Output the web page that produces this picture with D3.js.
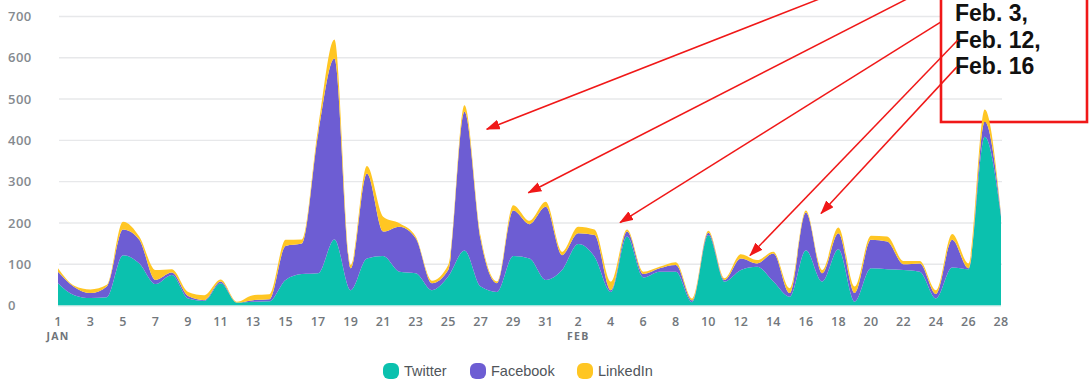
<!DOCTYPE html>
<html>
<head>
<meta charset="utf-8">
<script src="https://cdn.jsdelivr.net/npm/d3@7"></script>
<style>
  html, body { margin: 0; padding: 0; background: #fff; }
  svg { display: block; }
</style>
</head>
<body>
<svg id="chart" width="1089" height="379"></svg>
<script>
// Daily engagement, Jan 1 – Feb 28
const firstDay = new Date(2019, 0, 1);
const lastDay = new Date(2019, 1, 28);

const twitter = [
  54, 25, 18, 20, 122, 102, 52, 74, 17, 11, 54, 7, 9, 10, 62, 76, 78, 160, 37, 114,
  120, 82, 78, 37, 70, 133, 46, 33, 120, 114, 62,
  86, 149, 118, 33, 167, 68, 82, 82, 8, 171, 58, 86, 94, 58, 21, 134, 58, 136, 9,
  90, 88, 86, 82, 17, 92, 88, 409, 215
];
const facebook = [
  28, 20, 12, 26, 62, 57, 10, 6, 6, 2, 4, 0, 4, 5, 82, 74, 337, 438, 53, 206,
  59, 109, 85, 17, 16, 336, 113, 21, 110, 83, 177,
  36, 26, 53, 4, 12, 8, 8, 16, 4, 5, 4, 28, 8, 68, 9, 91, 20, 39, 21,
  69, 67, 14, 20, 11, 67, 2, 36, 4
];
const linkedin = [
  8, 3, 9, 4, 19, 8, 24, 8, 10, 12, 5, 2, 12, 12, 15, 10, 15, 46, 8, 18,
  36, 8, 4, 6, 12, 16, 8, 4, 13, 8, 12,
  8, 16, 13, 21, 5, 6, 4, 7, 5, 5, 4, 10, 8, 4, 12, 5, 8, 14, 16,
  10, 12, 8, 6, 9, 14, 12, 30, 3
];

const seriesKeys = ["Twitter", "Facebook", "LinkedIn"];
const seriesColors = ["#0bc1ae", "#6d5dd3", "#ffc623"];
const yTickValues = [0, 100, 200, 300, 400, 500, 600, 700];
const monthLabels = ["JAN", "FEB"];
const noteLines = ["Feb. 3,", "Feb. 12,", "Feb. 16"];

// Arrow callouts: [start day offset, start value, tip day offset, tip value]
const arrows = [
  [46.99, 745, 26.37, 427],
  [52.34, 745, 28.93, 273],
  [54.31, 687, 34.57, 201],
  [55.35, 643, 42.56, 121],
  [55.29, 578, 46.93, 223]
];

const days = d3.timeDay.range(firstDay, d3.timeDay.offset(lastDay, 1));
const rows = days.map((d, i) => ({
  date: d,
  Twitter: twitter[i],
  Facebook: facebook[i],
  LinkedIn: linkedin[i]
}));

const svg = d3.select("#chart");
const x = d3.scaleTime().domain([firstDay, lastDay]).range([58, 1001]);
const y = d3.scaleLinear().domain([0, 700]).range([305.5, 16.5]);
const dayX = off => x(firstDay) + off * (x(d3.timeDay.offset(firstDay, 1)) - x(firstDay));

// Gridlines
svg.append("g").selectAll("line")
  .data(yTickValues.filter(v => v > 0))
  .join("line")
  .attr("x1", 59).attr("x2", 1002)
  .attr("y1", d => y(d)).attr("y2", d => y(d))
  .attr("stroke", "#e7e8ea").attr("stroke-width", 1.4);

// Y labels
svg.append("g").selectAll("text")
  .data(yTickValues)
  .join("text")
  .attr("x", 8).attr("y", d => y(d))
  .attr("dy", "0.36em")
  .attr("font-family", "'Open Sans', sans-serif")
  .attr("font-size", 13).attr("font-weight", 600)
  .attr("letter-spacing", 0.5)
  .attr("fill", "#858a8f")
  .text(d => d);

// Note box (white backing behind the text, red outline)
const boxX0 = 941, boxX1 = 1087, boxY1 = 122;
svg.append("rect")
  .attr("x", boxX0).attr("y", -10).attr("width", boxX1 - boxX0).attr("height", 95)
  .attr("fill", "#fff");
svg.append("rect")
  .attr("x", boxX0).attr("y", -10).attr("width", boxX1 - boxX0).attr("height", boxY1 + 10)
  .attr("fill", "none").attr("stroke", "#f01818").attr("stroke-width", 2.6);

// Stacked areas
const stack = d3.stack().keys(seriesKeys);
const layers = stack(rows);
const area = d3.area()
  .x(d => x(d.data.date))
  .y0(d => y(d[0]))
  .y1(d => y(d[1]))
  .curve(d3.curveMonotoneX);

svg.append("g").selectAll("path")
  .data(layers)
  .join("path")
  .attr("d", area)
  .attr("fill", (d, i) => seriesColors[i]);

// Baseline
svg.append("line")
  .attr("x1", 58).attr("x2", 1001)
  .attr("y1", y(0) + 0.5).attr("y2", y(0) + 0.5)
  .attr("stroke", "#cfe8e5").attr("stroke-width", 1.2);

// X axis labels: every other day
const tickDays = days.filter((d, i) => i % 2 === 0);
const xa = svg.append("g");
xa.selectAll("text.day")
  .data(tickDays)
  .join("text")
  .attr("class", "day")
  .attr("x", d => x(d)).attr("y", 321)
  .attr("dy", "0.36em")
  .attr("text-anchor", "middle")
  .attr("font-family", "'Open Sans', sans-serif")
  .attr("font-size", 12.5).attr("font-weight", 600)
  .attr("letter-spacing", 0.3)
  .attr("fill", "#72777c")
  .text(d => d.getDate());

const monthStarts = [tickDays[0], tickDays.find(d => d.getMonth() === 1)];
xa.selectAll("text.month")
  .data(monthStarts)
  .join("text")
  .attr("class", "month")
  .attr("x", d => x(d)).attr("y", 336.5)
  .attr("dy", "0.36em")
  .attr("text-anchor", "middle")
  .attr("font-family", "'Open Sans', sans-serif")
  .attr("font-size", 10.5).attr("font-weight", 700)
  .attr("letter-spacing", 1.2)
  .attr("fill", "#6f7479")
  .text((d, i) => monthLabels[i]);

// Legend
const legendX = [391, 478, 585];
const lg = svg.append("g").selectAll("g")
  .data(seriesKeys)
  .join("g")
  .attr("transform", (d, i) => `translate(${legendX[i]},371)`);
lg.append("rect")
  .attr("x", -8).attr("y", -8).attr("width", 16).attr("height", 16)
  .attr("rx", 6).attr("fill", (d, i) => seriesColors[i]);
lg.append("text")
  .attr("x", 13).attr("dy", "0.36em")
  .attr("font-family", "'Liberation Sans', Arial, sans-serif")
  .attr("font-size", 14.5)
  .attr("fill", "#50555a")
  .text(d => d);

// Note text
svg.append("g").selectAll("text")
  .data(noteLines)
  .join("text")
  .attr("x", 955).attr("y", (d, i) => 21 + i * 26.5)
  .attr("font-family", "'Liberation Sans', Arial, sans-serif")
  .attr("font-size", 23).attr("font-weight", 700)
  .attr("fill", "#111")
  .text(d => d);

// Arrow callouts
const defs = svg.append("defs");
defs.append("marker")
  .attr("id", "head")
  .attr("markerUnits", "userSpaceOnUse")
  .attr("markerWidth", 14).attr("markerHeight", 10)
  .attr("refX", 13).attr("refY", 5)
  .attr("orient", "auto")
  .append("path")
  .attr("d", "M0,0 L14,5 L0,10 Z")
  .attr("fill", "#f01818");

svg.append("g").selectAll("line")
  .data(arrows)
  .join("line")
  .attr("x1", d => dayX(d[0])).attr("y1", d => y(d[1]))
  .attr("x2", d => dayX(d[2])).attr("y2", d => y(d[3]))
  .attr("stroke", "#f01818").attr("stroke-width", 1.5)
  .attr("marker-end", "url(#head)");
</script>
</body>
</html>
